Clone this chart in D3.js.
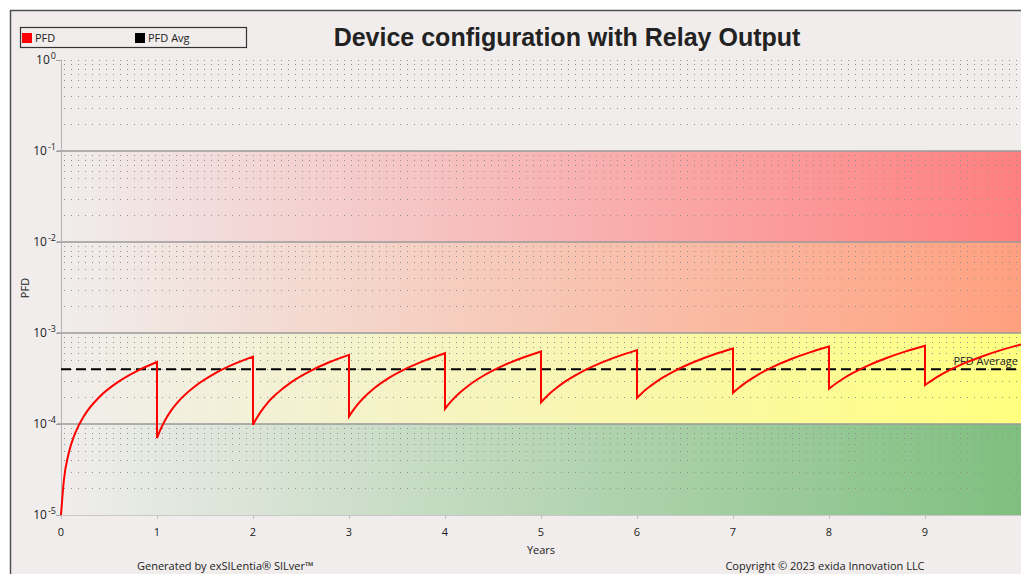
<!DOCTYPE html>
<html>
<head>
<meta charset="utf-8">
<script src="https://cdn.jsdelivr.net/npm/d3@7/dist/d3.min.js"></script>
<style>
  body { margin: 0; background: #fff; }
  svg { display: block; font-family: "Open Sans", "Noto Sans", sans-serif; }
</style>
</head>
<body>
<div id="chart"></div>
<script>
// Years shown on the x axis
const yearTicks = [0, 1, 2, 3, 4, 5, 6, 7, 8, 9];
// Decades on the log y axis (exponents)
const decadeExponents = [0, -1, -2, -3, -4, -5];
// SIL bands: [upper, lower]
const bandLimits = [[1e-1, 1e-2], [1e-2, 1e-3], [1e-3, 1e-4], [1e-4, 1e-5]];

// Where in each proof-test year the PFD was read (fraction of the year)
const sampleOffsets = [0, 0.03, 0.08, 0.15, 0.25, 0.4, 0.6, 0.8, 1];
// PFD, one list per year
const pfdCycles = [
  [1.0e-5, 2.41e-5, 4.76e-5, 8.05e-5, 1.275e-4, 1.98e-4, 2.92e-4, 3.86e-4, 4.8e-4],
  [7.0e-5, 8.4e-5, 1.08e-4, 1.42e-4, 1.9e-4, 2.62e-4, 3.58e-4, 4.54e-4, 5.5e-4],
  [9.8e-5, 1.12e-4, 1.36e-4, 1.7e-4, 2.17e-4, 2.89e-4, 3.84e-4, 4.8e-4, 5.75e-4],
  [1.21e-4, 1.35e-4, 1.59e-4, 1.93e-4, 2.41e-4, 3.13e-4, 4.08e-4, 5.04e-4, 6.0e-4],
  [1.47e-4, 1.61e-4, 1.85e-4, 2.19e-4, 2.67e-4, 3.39e-4, 4.35e-4, 5.31e-4, 6.27e-4],
  [1.73e-4, 1.87e-4, 2.11e-4, 2.44e-4, 2.92e-4, 3.63e-4, 4.58e-4, 5.53e-4, 6.48e-4],
  [1.94e-4, 2.08e-4, 2.33e-4, 2.66e-4, 3.15e-4, 3.87e-4, 4.83e-4, 5.8e-4, 6.76e-4],
  [2.2e-4, 2.35e-4, 2.59e-4, 2.94e-4, 3.43e-4, 4.16e-4, 5.14e-4, 6.12e-4, 7.1e-4],
  [2.44e-4, 2.58e-4, 2.82e-4, 3.16e-4, 3.64e-4, 4.36e-4, 5.32e-4, 6.28e-4, 7.24e-4],
  [2.68e-4, 2.82e-4, 3.06e-4, 3.4e-4, 3.88e-4, 4.6e-4, 5.56e-4, 6.52e-4, 7.48e-4]
];
const pfdAvg = 4.0e-4;

const legendLabels = ['PFD', 'PFD Avg'];
const titleText = 'Device configuration with Relay Output';

// ---- layout ----
const W = 1021, H = 574;
const bg = '#f0edec';
const bandColors = ['#ff7f7f', '#ffa07f', '#ffff7f', '#7fbf7f'];

const svg = d3.select('#chart').append('svg')
  .attr('width', W)
  .attr('height', H);

// Outer frame
svg.append('rect')
  .attr('x', 10.5).attr('y', 10.5)
  .attr('width', W + 20).attr('height', H + 20)
  .attr('fill', bg)
  .attr('stroke', '#505050')
  .attr('stroke-width', 1.5);

const x = d3.scaleLinear().domain([0, 10]).range([61, 1021]);
const y = d3.scaleLog().domain([1e-5, 1]).range([515, 60]);

// Gradients for bands
const defs = svg.append('defs');
bandColors.forEach((c, i) => {
  const g = defs.append('linearGradient')
    .attr('id', 'band' + i)
    .attr('x1', 0).attr('x2', 1).attr('y1', 0).attr('y2', 0);
  g.append('stop').attr('offset', 0).attr('stop-color', bg);
  g.append('stop').attr('offset', 1).attr('stop-color', c);
});

svg.selectAll('.band')
  .data(bandLimits)
  .enter()
  .append('rect')
  .attr('class', 'band')
  .attr('x', x(0))
  .attr('y', d => y(d[0]))
  .attr('width', x(10) - x(0))
  .attr('height', d => y(d[1]) - y(d[0]))
  .attr('fill', (d, i) => `url(#band${i})`);

// Minor dotted grid (2..9 in each decade, plus the top line)
const minorValues = [];
decadeExponents.slice(1).forEach(e => {
  for (let m = 2; m <= 9; m++) minorValues.push(m * Math.pow(10, e));
});
minorValues.push(1);
svg.append('g')
  .selectAll('line')
  .data(minorValues)
  .enter()
  .append('line')
  .attr('x1', x(0) + 3)
  .attr('x2', x(10))
  .attr('y1', d => Math.round(y(d)) + 0.5)
  .attr('y2', d => Math.round(y(d)) + 0.5)
  .attr('stroke', '#909090')
  .attr('stroke-width', 1)
  .attr('stroke-dasharray', '1 6');

// Major decade lines
svg.append('g')
  .selectAll('line')
  .data(decadeExponents.filter(e => e < 0 && e > -5))
  .enter()
  .append('line')
  .attr('x1', x(0) - 4)
  .attr('x2', x(10))
  .attr('y1', d => y(Math.pow(10, d)))
  .attr('y2', d => y(Math.pow(10, d)))
  .attr('stroke', '#9a9a9a')
  .attr('stroke-width', 1.5);

// Axis lines
svg.append('line')
  .attr('x1', x(0) + 0.5).attr('x2', x(0) + 0.5)
  .attr('y1', y(1)).attr('y2', y(1e-5))
  .attr('stroke', '#b4b4b4');
svg.append('line')
  .attr('x1', x(0)).attr('x2', x(10))
  .attr('y1', y(1e-5) + 0.5).attr('y2', y(1e-5) + 0.5)
  .attr('stroke', '#c8c8c8');

// Y tick marks and labels
const yTicks = svg.append('g');
decadeExponents.forEach(e => {
  const yy = y(Math.pow(10, e));
  yTicks.append('line')
    .attr('x1', x(0) - 5).attr('x2', x(0))
    .attr('y1', yy + 0.5).attr('y2', yy + 0.5)
    .attr('stroke', '#a0a0a0');
  const t = yTicks.append('text')
    .attr('x', x(0) - 5)
    .attr('y', yy + 4)
    .attr('text-anchor', 'end')
    .attr('font-size', 12)
    .attr('fill', '#222');
  t.append('tspan').text('10');
  t.append('tspan')
    .attr('dy', -5)
    .attr('dx', 1)
    .attr('font-size', 9)
    .text(e === 0 ? '0' : '-' + Math.abs(e));
});

// X tick marks and labels
const xTicks = svg.append('g');
yearTicks.forEach(v => {
  xTicks.append('line')
    .attr('x1', x(v) + 0.5).attr('x2', x(v) + 0.5)
    .attr('y1', y(1e-5)).attr('y2', y(1e-5) + 4)
    .attr('stroke', '#c0c0c0');
  xTicks.append('text')
    .attr('x', x(v))
    .attr('y', 536)
    .attr('text-anchor', 'middle')
    .attr('font-size', 11)
    .attr('fill', '#222')
    .text(v);
});

// Axis titles
svg.append('text')
  .attr('x', 541).attr('y', 554)
  .attr('text-anchor', 'middle')
  .attr('font-size', 11)
  .attr('fill', '#222')
  .text('Years');
svg.append('text')
  .attr('transform', 'translate(29,288) rotate(-90)')
  .attr('text-anchor', 'middle')
  .attr('font-size', 11)
  .attr('fill', '#222')
  .text('PFD');

// PFD average dashed line
svg.append('line')
  .attr('x1', x(0)).attr('x2', x(10))
  .attr('y1', y(pfdAvg)).attr('y2', y(pfdAvg))
  .attr('stroke', '#000')
  .attr('stroke-width', 2)
  .attr('stroke-dasharray', '10 5');
svg.append('text')
  .attr('x', 1018).attr('y', y(pfdAvg) - 4)
  .attr('text-anchor', 'end')
  .attr('font-size', 11)
  .attr('fill', '#222')
  .text('PFD Average');

// PFD curve: one smooth piece per year, joined by the proof-test drops
const line = d3.line()
  .x(d => x(d[0]))
  .y(d => y(d[1]))
  .curve(d3.curveMonotoneX);

let pathD = '';
pfdCycles.forEach((vals, k) => {
  const pts = vals.map((v, i) => [k + sampleOffsets[i], v]);
  let seg = line(pts);
  if (k > 0) seg = 'L' + seg.slice(1);
  pathD += seg;
});
svg.append('path')
  .attr('d', pathD)
  .attr('fill', 'none')
  .attr('stroke', '#ff0000')
  .attr('stroke-width', 2)
  .attr('stroke-linejoin', 'miter');

// Legend
const legend = svg.append('g');
legend.append('rect')
  .attr('x', 20.5).attr('y', 27.5)
  .attr('width', 226).attr('height', 20)
  .attr('fill', 'none')
  .attr('stroke', '#333')
  .attr('stroke-width', 1.2);
const legendSwatch = ['#ff0000', '#000000'];
legendLabels.forEach((lab, i) => {
  const lx = 22 + i * 113;
  legend.append('rect')
    .attr('x', lx).attr('y', 33)
    .attr('width', 10).attr('height', 10)
    .attr('fill', legendSwatch[i]);
  legend.append('text')
    .attr('x', lx + 13).attr('y', 42)
    .attr('font-size', 11)
    .attr('fill', '#222')
    .text(lab);
});

// Title
svg.append('text')
  .attr('x', 567).attr('y', 46)
  .attr('text-anchor', 'middle')
  .attr('font-family', '"Liberation Sans", Arial, sans-serif')
  .attr('font-weight', 'bold')
  .attr('font-size', 25)
  .attr('fill', '#222')
  .text(titleText);

// Footer
svg.append('text')
  .attr('x', 137).attr('y', 570)
  .attr('font-size', 11)
  .attr('fill', '#222')
  .text('Generated by exSILentia\u00AE SILver\u2122');
svg.append('text')
  .attr('x', 825).attr('y', 570)
  .attr('text-anchor', 'middle')
  .attr('font-size', 11)
  .attr('fill', '#222')
  .text('Copyright \u00A9 2023 exida Innovation LLC');
</script>
</body>
</html>
